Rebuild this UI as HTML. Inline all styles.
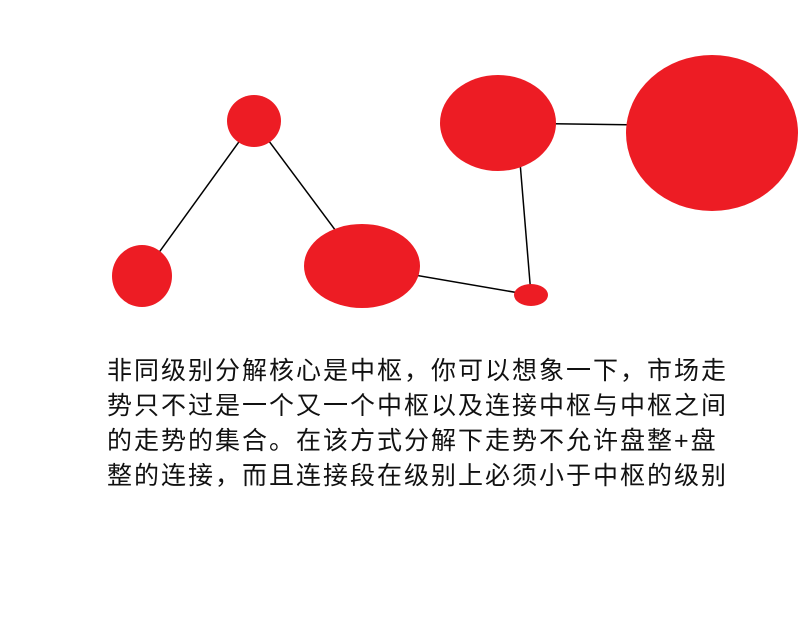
<!DOCTYPE html>
<html><head><meta charset="utf-8"><style>
html,body{margin:0;padding:0;background:#fff;width:800px;height:630px;overflow:hidden;position:relative}
svg{position:absolute;left:0;top:0}
.t{position:absolute;left:107px;top:354px;font-family:"Liberation Sans","Noto Sans CJK SC",sans-serif;font-size:25px;letter-spacing:2px;line-height:35px;color:#111;white-space:nowrap}
</style></head><body>
<svg width="800" height="630">
<g stroke="#000" stroke-width="1.5">
<line x1="142" y1="276" x2="254" y2="121"/>
<line x1="254" y1="121" x2="362" y2="266"/>
<line x1="362" y1="266" x2="531" y2="295"/>
<line x1="531" y1="295" x2="519" y2="150"/>
<line x1="498" y1="123" x2="712" y2="126"/>
</g>
<g fill="#ED1C24">
<ellipse cx="142" cy="276" rx="30" ry="31"/>
<ellipse cx="254" cy="121" rx="27" ry="26"/>
<ellipse cx="362" cy="266" rx="58" ry="42"/>
<ellipse cx="531" cy="295" rx="17" ry="11"/>
<ellipse cx="498" cy="123" rx="58" ry="48"/>
<ellipse cx="712" cy="133" rx="86" ry="78"/>
</g>
</svg>
<div class="t">非同级别分解核心是中枢，你可以想象一下，市场走<br>势只不过是一个又一个中枢以及连接中枢与中枢之间<br>的走势的集合。在该方式分解下走势不允许盘整+盘<br>整的连接，而且连接段在级别上必须小于中枢的级别</div>
</body></html>
